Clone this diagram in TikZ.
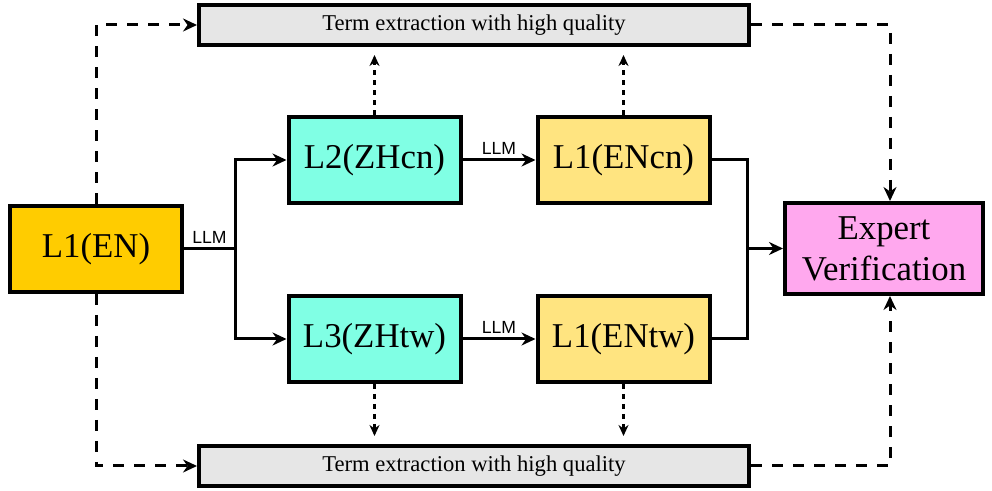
\documentclass[tikz,border=0pt]{standalone}
\usepackage{fontspec}
\setmainfont{Liberation Serif}
\setsansfont{Liberation Sans}
\usetikzlibrary{positioning}
\usetikzlibrary{arrows.meta}
\definecolor{goldcol}{HTML}{FFCC00}
\definecolor{zhcol}{HTML}{80FFE4}
\definecolor{encol}{HTML}{FFE480}
\definecolor{expcol}{HTML}{FFA8EE}
\definecolor{termcol}{HTML}{E6E6E6}

\begin{document}
\begin{tikzpicture}[x=0.5pt, y=-0.5pt,
	box/.style={draw, line width=2pt, minimum width=86pt, minimum height=43pt, align=center, font=\fontsize{17.4}{20.5}\selectfont},
	termbox/.style={draw, line width=2pt, fill=termcol, minimum width=275pt, minimum height=20pt, inner sep=1pt, font=\fontsize{11.3}{13}\selectfont},
	arr/.style={line width=1.5pt, -{Stealth[length=7pt, width=6.5pt]}},
	dasharr/.style={arr, dash pattern=on 5.5pt off 5pt},
	dotarr/.style={line width=1.3pt, dash pattern=on 2.5pt off 2.5pt, -{Stealth[length=5.5pt, width=5pt]}, shorten >=4pt},
	llm/.style={font=\sffamily\fontsize{8.8}{10}\selectfont, inner sep=2pt}]
	\useasboundingbox (0,0) rectangle (992,491);
	\node[box, fill=goldcol] (en) at (96,249) {L1(EN)};
	\node[box, fill=zhcol] (zhcn) at (374.5,160) {L2(ZHcn)};
	\node[box, fill=encol, right=36.5pt of zhcn] (encn) {L1(ENcn)};
	\node[box, fill=zhcol] (zhtw) at (374.5,339) {L3(ZHtw)};
	\node[box, fill=encol, right=36.5pt of zhtw] (entw) {L1(ENtw)};
	\node[box, fill=expcol, minimum width=99pt, minimum height=45.5pt] (exp) at (884,248.5) {Expert\\Verification};
	\node[termbox] (top) at (474,25) {Term extraction with high quality};
	\node[termbox] (bot) at (474,466) {Term extraction with high quality};
	\coordinate (split) at (235,249);
	\coordinate (merge) at (747,248.5);
	\draw[line width=1.5pt] (en.east) -- node[llm, above] {LLM} (split);
	\draw[arr] (split) |- (zhcn.west);
	\draw[arr] (split) |- (zhtw.west);
	\draw[arr] (zhcn) -- node[llm, above] {LLM} (encn);
	\draw[arr] (zhtw) -- node[llm, above] {LLM} (entw);
	\draw[line width=1.5pt] (encn.east) -| (merge);
	\draw[line width=1.5pt] (entw.east) -| (merge);
	\draw[arr] (merge) -- (exp.west);
	\draw[dasharr] (en.north) |- (top.west);
	\draw[dasharr] (en.south) |- (bot.west);
	\draw[dasharr] (top.east) -| ([xshift=3pt]exp.north);
	\draw[dasharr] (bot.east) -| ([xshift=3pt]exp.south);
	\draw[dotarr] (zhcn.north) -- (zhcn.north |- top.south);
	\draw[dotarr] (encn.north) -- (encn.north |- top.south);
	\draw[dotarr] (zhtw.south) -- (zhtw.south |- bot.north);
	\draw[dotarr] (entw.south) -- (entw.south |- bot.north);
\end{tikzpicture}
\end{document}
